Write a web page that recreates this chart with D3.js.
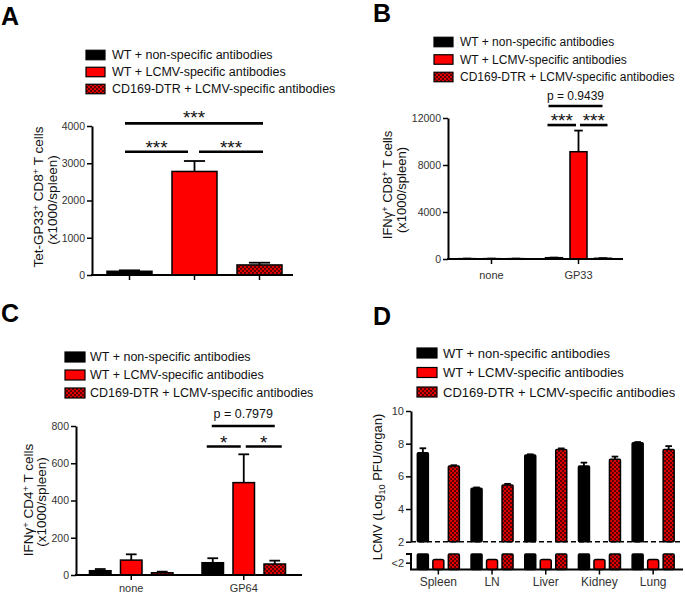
<!DOCTYPE html>
<html><head><meta charset="utf-8">
<script src="https://cdn.jsdelivr.net/npm/d3@7"></script>
<style>
body{margin:0;background:#fff}
svg{font-family:"Liberation Sans",Arial,sans-serif;display:block}
</style></head><body>
<svg id="fig" width="685" height="595"></svg>
<script>
// ---------------- DATA ----------------
const groups = ["WT + non-specific antibodies","WT + LCMV-specific antibodies","CD169-DTR + LCMV-specific antibodies"];
// Panel A
const aValues = [100, 2780, 270];
const aErrors = [25, 280, 60];
const aTicks = [0, 1000, 2000, 3000, 4000];
// Panel B
const bCategories = ["none", "GP33"];
const bNonspec = [30, 110], bNonspecErr = [5, 10];
const bLcmv = [30, 9130], bLcmvErr = [5, 1800];
const bDtr = [30, 60], bDtrErr = [5, 10];
const bTicks = [0, 4000, 8000, 12000];
// Panel C
const cCategories = ["none", "GP64"];
const cNonspec = [23, 66], cNonspecErr = [9, 24];
const cLcmv = [80, 496], cLcmvErr = [31, 152];
const cDtr = [12, 59], cDtrErr = [6, 18];
const cTicks = [0, 200, 400, 600, 800];
// Panel D
const dOrgans = ["Spleen", "LN", "Liver", "Kidney", "Lung"];
const dNonspec = [7.45, 5.27, 7.31, 6.63, 8.06], dNonspecErr = [0.27, 0.05, 0.04, 0.21, 0.04];
const dLcmvLow = [1.3, 1.3, 1.3, 1.3, 1.3]; // below detection limit (<2), drawn in the lower segment
const dDtr = [6.63, 5.47, 7.65, 7.04, 7.65], dDtrErr = [0.05, 0.07, 0.06, 0.17, 0.2];
const dTicks = [2, 4, 6, 8, 10];
const dLowTickValue = 0.88, dLowTickLabel = "<2";

// ---------------- SETUP ----------------
const FONT = '"Liberation Sans",Arial,sans-serif';
const svg = d3.select("#fig");
const defs = svg.append("defs");
const pat = defs.append("pattern").attr("id","dtr").attr("patternUnits","userSpaceOnUse").attr("width",4).attr("height",4);
pat.append("rect").attr("width",4).attr("height",4).attr("fill","#e00000");
pat.append("rect").attr("width",2).attr("height",2).attr("fill","#5a0000");
pat.append("rect").attr("x",2).attr("y",2).attr("width",2).attr("height",2).attr("fill","#5a0000");
const fills = ["#000000", "#ff0000", "url(#dtr)"];

function yAxis(scale, x, ticks, fs, fmt){
  const g = svg.append("g").attr("transform",`translate(${x},0)`)
    .call(d3.axisLeft(scale).tickValues(ticks).tickSize(5).tickSizeOuter(0).tickPadding(2).tickFormat(fmt || d3.format("d")));
  g.attr("font-family", FONT).attr("font-size", fs);
  g.select(".domain").attr("stroke","#000").attr("stroke-width",2);
  g.selectAll(".tick line").attr("stroke","#000").attr("stroke-width",1.5);
  g.selectAll(".tick text").attr("fill","#333");
  return g;
}
function xAxisLine(x0, x1, y, centers){
  svg.append("line").attr("x1",x0-1).attr("x2",x1).attr("y1",y).attr("y2",y).attr("stroke","#000").attr("stroke-width",2);
  centers.forEach(c => svg.append("line").attr("x1",c).attr("x2",c).attr("y1",y).attr("y2",y+5).attr("stroke","#000").attr("stroke-width",1.5));
}
function bar(x, w, yTop, yBot, fill, rx){
  svg.append("rect").attr("x",x).attr("y",yTop).attr("width",w).attr("height",Math.max(0,yBot-yTop))
    .attr("fill",fill).attr("stroke","#000").attr("stroke-width",1.5).attr("rx",rx||0);
}
function errBar(cx, yVal, yTop, capW){
  svg.append("line").attr("x1",cx).attr("x2",cx).attr("y1",yVal).attr("y2",yTop).attr("stroke","#000").attr("stroke-width",1.8);
  svg.append("line").attr("x1",cx-capW/2).attr("x2",cx+capW/2).attr("y1",yTop).attr("y2",yTop).attr("stroke","#000").attr("stroke-width",1.8);
}
function legend(x, yc, dy, fs, sw, sh, tx){
  groups.forEach((name,i)=>{
    const y = yc + i*dy;
    svg.append("rect").attr("x",x).attr("y",y-sh/2).attr("width",sw).attr("height",sh)
      .attr("fill",fills[i]).attr("stroke","#000").attr("stroke-width",1.2);
    svg.append("text").attr("x",tx).attr("y",y).attr("dy","0.35em").attr("font-size",fs).attr("fill","#111").text(name);
  });
}
function rotTitle(x, y, fs, parts){
  const t = svg.append("text").attr("transform",`translate(${x},${y}) rotate(-90)`).attr("text-anchor","middle")
    .attr("font-size",fs).attr("fill","#111");
  let shift = 0;
  parts.forEach(p=>{
    const s = t.append("tspan").text(p.t);
    let target = p.sup ? -4.5 : (p.sub ? 3 : 0);
    if (target !== shift) { s.attr("dy", target - shift); shift = target; }
    if (p.sup || p.sub) s.attr("font-size", fs*0.7);
  });
  return t;
}
function sigLine(x1, x2, y, label, fs, textDy){
  svg.append("line").attr("x1",x1).attr("x2",x2).attr("y1",y).attr("y2",y).attr("stroke","#000").attr("stroke-width",2.6);
  if (label) svg.append("text").attr("x",(x1+x2)/2).attr("y",y+textDy).attr("text-anchor","middle").attr("font-size",fs).attr("fill","#111").text(label);
}
function panelLetter(x, y, L){
  svg.append("text").attr("x",x).attr("y",y).attr("font-size",25).attr("font-weight","bold").attr("fill","#000").text(L);
}

// ---------------- PANEL A ----------------
panelLetter(1, 25, "A");
legend(86, 55, 17, 12.5, 19, 9.5, 112);
const yA = d3.scaleLinear().domain([0,4000]).range([275,126]);
const xA = d3.scaleBand().domain(groups).range([97,292]).paddingInner(0.3077).paddingOuter(0.1538);
groups.forEach((g,i)=>{
  const cx = xA(g) + xA.bandwidth()/2;
  errBar(cx, yA(aValues[i]), yA(aValues[i]+aErrors[i]), xA.bandwidth()*0.47);
  bar(xA(g), xA.bandwidth(), yA(aValues[i]), yA(0), fills[i]);
});
yAxis(yA, 92, aTicks, 10.5);
const aC = groups.map(g => xA(g) + xA.bandwidth()/2);
xAxisLine(92, 293, yA(0), aC);
rotTitle(43, 197, 13.5, [{t:"Tet-GP33"},{t:"+",sup:true},{t:" CD8"},{t:"+",sup:true},{t:" T cells"}]);
rotTitle(57, 200, 13.5, [{t:"(x1000/spleen)"}]);
sigLine(aC[0]-4.5, aC[2]+3.5, yA(4070), "***", 19, 1);
sigLine(aC[0]-4.5, aC[1]-6.5, yA(3310), "***", 19, 2);
sigLine(aC[1]+4.5, aC[2]+3.5, yA(3310), "***", 19, 2);

// ---------------- PANEL B ----------------
panelLetter(373, 22, "B");
legend(434, 42, 17.5, 12, 19, 9.5, 460);
const yB = d3.scaleLinear().domain([0,12000]).range([259,118]);
const xB = d3.scaleBand().domain(bCategories).range([448,622]);
const xBin = d3.scaleBand().domain(groups).range([-36.75,36.75]).paddingInner(0.306).paddingOuter(0.153);
const bSeries = [[bNonspec,bNonspecErr],[bLcmv,bLcmvErr],[bDtr,bDtrErr]];
bCategories.forEach((c,ci)=>{
  bSeries.forEach(([vals,errs],si)=>{
    const x = xB(c) + xB.bandwidth()/2 + xBin(groups[si]);
    const cx = x + xBin.bandwidth()/2;
    errBar(cx, yB(vals[ci]), yB(vals[ci]+errs[ci]), xBin.bandwidth()*0.5);
    bar(x, xBin.bandwidth(), yB(vals[ci]), yB(0), fills[si]);
  });
});
yAxis(yB, 448, bTicks, 10.5);
const bC = bCategories.map(c => xB(c) + xB.bandwidth()/2);
xAxisLine(448, 623, yB(0), bC);
bCategories.forEach((c,i)=> svg.append("text").attr("x",bC[i]).attr("y",279).attr("text-anchor","middle").attr("font-size",11).attr("fill","#333").text(c));
rotTitle(392, 185, 13, [{t:"IFNγ"},{t:"+",sup:true},{t:" CD8"},{t:"+",sup:true},{t:" T cells"}]);
rotTitle(406, 190, 13, [{t:"(x1000/spleen)"}]);
const bG = groups.map(g => bC[1] + xBin(g) + xBin.bandwidth()/2);
sigLine(bG[0]-5.5, bG[2]-0.5, yB(13020), "p = 0.9439", 12, -6);
sigLine(bG[0]-6.5, bG[1]-2.5, yB(11400), "***", 19, 2);
sigLine(bG[1]+1.5, bG[2]+4.5, yB(11400), "***", 19, 2);

// ---------------- PANEL C ----------------
panelLetter(1, 322, "C");
legend(65, 357, 18, 12.5, 20, 10, 90);
const yC = d3.scaleLinear().domain([0,800]).range([575,426]);
const xC = d3.scaleBand().domain(cCategories).range([75,300]);
const xCin = d3.scaleBand().domain(groups).range([-46.5,46.5]).paddingInner(0.306).paddingOuter(0.153);
const cSeries = [[cNonspec,cNonspecErr],[cLcmv,cLcmvErr],[cDtr,cDtrErr]];
cCategories.forEach((c,ci)=>{
  cSeries.forEach(([vals,errs],si)=>{
    const x = xC(c) + xC.bandwidth()/2 + xCin(groups[si]);
    const cx = x + xCin.bandwidth()/2;
    errBar(cx, yC(vals[ci]), yC(vals[ci]+errs[ci]), xCin.bandwidth()*0.5);
    bar(x, xCin.bandwidth(), yC(vals[ci]), yC(0), fills[si]);
  });
});
yAxis(yC, 76, cTicks, 10.5);
const cC = cCategories.map(c => xC(c) + xC.bandwidth()/2);
xAxisLine(76, 302, yC(0), cC);
cCategories.forEach((c,i)=> svg.append("text").attr("x",cC[i]).attr("y",592).attr("text-anchor","middle").attr("font-size",11).attr("fill","#333").text(c));
rotTitle(33, 500, 13.5, [{t:"IFNγ"},{t:"+",sup:true},{t:" CD4"},{t:"+",sup:true},{t:" T cells"}]);
rotTitle(46, 502, 13.5, [{t:"(x1000/spleen)"}]);
const cG = groups.map(g => cC[1] + xCin(g) + xCin.bandwidth()/2);
sigLine(cG[0]-1, cG[2], yC(800), "p = 0.7979", 12.5, -8);
sigLine(cG[0]-6, cG[1]-3, yC(690), "*", 19, 3);
sigLine(cG[1]+2, cG[2]+7, yC(690), "*", 19, 3);

// ---------------- PANEL D ----------------
panelLetter(373, 325, "D");
legend(417, 353, 19.5, 13, 20, 10, 443);
const yD = d3.scaleLinear().domain([2,10]).range([541.7,411]);
const yDlow = d3.scaleLinear().domain([0,2]).range([569.5,554]);
const xD = d3.scaleBand().domain(dOrgans).range([411.5,680]);
const xDin = d3.scaleBand().domain(groups).range([-23.25,23.25]).paddingInner(0.29).paddingOuter(0.145);
const dW = xDin.bandwidth();
dOrgans.forEach((o,i)=>{
  const c = xD(o) + xD.bandwidth()/2;
  let x = c + xDin(groups[0]);
  errBar(x+dW/2, yD(dNonspec[i]), yD(dNonspec[i]+dNonspecErr[i]), dW*0.6);
  bar(x, dW, yD(dNonspec[i]), yD(2), fills[0], 1);
  bar(x, dW, yDlow(2), yDlow(0), fills[0], 1);
  x = c + xDin(groups[1]);
  bar(x, dW, yDlow(dLcmvLow[i]), yDlow(0), fills[1], 2);
  x = c + xDin(groups[2]);
  errBar(x+dW/2, yD(dDtr[i]), yD(dDtr[i]+dDtrErr[i]), dW*0.6);
  bar(x, dW, yD(dDtr[i]), yD(2), fills[2], 1);
  bar(x, dW, yDlow(2), yDlow(0), fills[2], 1);
});
svg.append("line").attr("x1",411).attr("x2",683).attr("y1",yD(2)).attr("y2",yD(2))
  .attr("stroke","#000").attr("stroke-width",1.5).attr("stroke-dasharray","5,3");
yAxis(yD, 411, dTicks, 11);
const gLow = yAxis(yDlow, 411, [dLowTickValue], 11, () => dLowTickLabel);
gLow.select(".domain").remove();
gLow.append("path").attr("d",`M-5,${yDlow(2)}H0V${yDlow(0)}`).attr("fill","none").attr("stroke","#000").attr("stroke-width",2);
const dC = dOrgans.map(o => xD(o) + xD.bandwidth()/2);
xAxisLine(411, 683, yDlow(0), dC);
dOrgans.forEach((o,i)=> svg.append("text").attr("x",dC[i]).attr("y",586).attr("text-anchor","middle").attr("font-size",12).attr("fill","#333").text(o));
rotTitle(382, 487, 13, [{t:"LCMV (Log"},{t:"10",sub:true},{t:" PFU/organ)"}]);
</script>
</body></html>
